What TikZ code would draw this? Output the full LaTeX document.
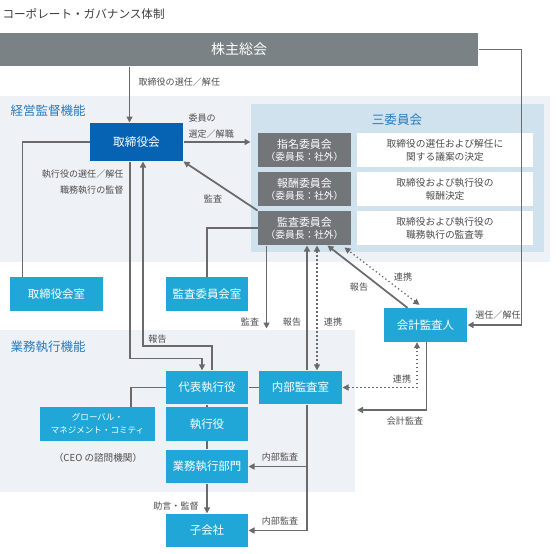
\documentclass[tikz,border=0pt]{standalone}
\usepackage{fontspec}
\setmainfont{Noto Sans CJK JP}
\usetikzlibrary{arrows.meta,calc}

\definecolor{barc}{RGB}{122,130,134}
\definecolor{boardc}{RGB}{6,98,178}
\definecolor{cyanc}{RGB}{32,167,215}
\definecolor{grayc}{RGB}{114,118,121}
\definecolor{regionc}{RGB}{238,242,246}
\definecolor{threec}{RGB}{207,226,238}
\definecolor{linec}{RGB}{104,106,108}
\definecolor{txtc}{RGB}{77,77,77}
\definecolor{headc}{RGB}{38,122,190}

\tikzset{every picture/.style={line width=0.75pt}}
\tikzset{
  cbox/.style={fill=cyanc,text=white,inner sep=0pt,minimum width=61.5pt,minimum height=25pt,font=\fontsize{8.6}{10}\selectfont},
  gbox/.style={fill=grayc,text=white,inner sep=0pt,minimum width=69.75pt,minimum height=25.5pt,align=center,font=\fontsize{8.2}{9}\selectfont},
  wbox/.style={fill=white,text=txtc,inner sep=0pt,minimum width=132pt,minimum height=25.5pt,align=center,font=\fontsize{7.3}{9.8}\selectfont},
  lbl/.style={text=txtc,inner sep=0pt,font=\fontsize{6.8}{11.5}\selectfont},
  head/.style={text=headc,inner sep=0pt,font=\fontsize{9.4}{11}\selectfont},
  conn/.style={draw=linec,line width=1.3pt},
  arr/.style={conn,-{Triangle[length=4.5pt,width=4.5pt]}},
  dots/.style={draw=linec,line width=1pt,dotted,{Triangle[length=4.5pt,width=4.5pt]}-{Triangle[length=4.5pt,width=4.5pt]}},
}
\newcommand{\chair}{\\{\fontsize{7.3}{9}\selectfont （委員長：社外）}}

\begin{document}
\begin{tikzpicture}[x=0.75pt,y=0.75pt,yscale=-1,xscale=1]
\useasboundingbox (0,0) rectangle (560,553);

% Title
\node[anchor=west,inner sep=0pt,text={rgb,255:red,60;green,60;blue,60},font=\fontsize{8.7}{10}\selectfont] (title) at (2,14) {コーポレート・ガバナンス体制};

%Shape: shareholders bar
\node[fill=barc,text=white,inner sep=0pt,minimum width=358.5pt,minimum height=24.75pt,font=\fontsize{10.5}{12}\selectfont] (gm) at (239,49.5) {株主総会};

%Shape: supervision area
\fill[regionc] (0,96) rectangle (550,262);
\node[head,anchor=west] (supv) at (10,111) {経営監督機能};
%Shape: execution area
\fill[regionc] (0,330) rectangle (355,492);
\node[head,anchor=west] (exec) at (10,347) {業務執行機能};

%Shape: three committees
\node[fill=threec,inner sep=0pt,minimum width=219.75pt,minimum height=111pt] (three) at (397.5,178) {};
\node[head] (threelbl) at (397,120) {三委員会};
\node[gbox] (nom) at (304.5,150) {指名委員会\chair};
\node[wbox] (nomtxt) at (445,150) {取締役の選任および解任に\\関する議案の決定};
\node[gbox] (rem) at (304.5,189) {報酬委員会\chair};
\node[wbox] (remtxt) at (445,189) {取締役および執行役の\\報酬決定};
\node[gbox] (aud) at (304.5,228) {監査委員会\chair};
\node[wbox] (audtxt) at (445,228) {取締役および執行役の\\職務執行の監査等};

%Shape: board
\node[fill=boardc,text=white,inner sep=0pt,minimum width=69.75pt,minimum height=28.5pt,font=\fontsize{8.8}{10}\selectfont] (board) at (136.5,142) {取締役会};

% Boxes
\node[cbox,minimum width=69.75pt] (boardrm) at (56.5,294) {取締役会室};
\node[cbox] (audrm) at (207,294) {監査委員会室};
\node[cbox,minimum width=62.25pt] (acct) at (425.5,325) {会計監査人};
\node[cbox] (ceo) at (207,387.5) {代表執行役};
\node[cbox,minimum width=62.25pt] (iaudit) at (300.5,387.5) {内部監査室};
\node[cbox,minimum width=86.25pt,align=center,font=\fontsize{6.4}{9.5}\selectfont] (gmc) at (97.5,424) {グローバル・\\マネジメント・コミティ};
\node[cbox] (officers) at (207,424) {執行役};
\node[cbox] (dept) at (207,466.5) {業務執行部門};
\node[cbox] (subs) at (207,530.5) {子会社};
\node[lbl,font=\fontsize{7.2}{9}\selectfont] (gmcnote) at (98,458) {（CEO の諮問機関）};

% Lanes
\coordinate (l1) at ($(board.north)+(-7,0)$);
\coordinate (l2) at ($(boardrm.north west)+(13,0)$);
\coordinate (l3) at ($(aud.south west)+(9,0)$);
\coordinate (auddown) at ($(l3)+(0,83)$);
\coordinate (l4) at ($(iaudit.north)+(6.5,0)$);
\coordinate (l5) at ($(iaudit.north)+(16.5,0)$);
\coordinate (l6) at ($(acct.south)+(-8.5,0)$);
\coordinate (l7) at ($(acct.south)+(1,0)$);
\coordinate (acctend) at (357,410);
\coordinate (l8) at ($(board.south)+(-6.5,0)$);
\coordinate (l9) at ($(board.south)+(6.5,0)$);
\coordinate (l10) at ($(ceo.north)+(-5,0)$);
\coordinate (l11) at ($(ceo.north)+(5,0)$);
\coordinate (l12) at ($(gmc.north)+(33.5,0)$);
\coordinate (l13) at ($(iaudit.south)+(6.5,0)$);

% Connectors
\draw[arr] (gm.south -| l1) -- (l1);
\node[lbl,anchor=west] (lselect) at (138,82) {取締役の選任／解任};

\draw[arr] (board.east) -- (board.east -| three.west);
\node[lbl,anchor=west,align=left] (lappoint) at (188,126) {委員の\\選定／解職};

\draw[conn] (board.west) -| (l2);
\node[lbl,anchor=east,align=right] (lsuperv) at (124,182) {執行役の選任／解任\\職務執行の監督};

\draw[arr] (aud.north west) -- (board.south east);
\node[lbl] (laudit1) at (213,199) {監査};

\draw[conn] (aud.west) -| (audrm.north);
\draw[arr] (l3) -- (auddown);
\node[lbl] (laudit2) at (250,322) {監査};

\draw[arr] (l4) -- (l4 |- aud.south);
\node[lbl] (lrep1) at (292,322) {報告};
\draw[dots] (l5) -- (l5 |- aud.south);
\node[lbl] (lcoop1) at (333,322) {連携};

\draw[arr] ($(acct.north west)+(24,0)$) -- ($(aud.south east)+(-24,0)$);
\node[lbl] (lrep2) at (359,287) {報告};
\draw[dots] ($(acct.north west)+(36,-3)$) -- ($(aud.south east)+(-7,2)$);
\node[lbl] (lcoop2) at (403,277) {連携};

\draw[arr] (gm.east) -- ++(43,0) |- (acct.east);
\node[lbl] (lselect2) at (498,315) {選任／解任};

\draw[dots] (iaudit.east) -| (l6);
\node[lbl] (lcoop3) at (402,379) {連携};

\draw[arr] (l7) |- (acctend);
\node[lbl] (lacct) at (405,421) {会計監査};

\draw[arr] (l8) -- ++(0,197) -| (l10);
\draw[arr] (l11) -- ++(0,-24) -| (l9);
\node[lbl] (lrep3) at (157.5,339) {報告};

\draw[conn] (ceo.east) -- (iaudit.west);
\draw[conn] (ceo.west) -| (l12);
\draw[conn] (ceo) -- (officers);
\draw[conn] (officers) -- (dept);
\draw[arr] (dept) -- (subs);
\node[lbl] (ladvice) at (176,506) {助言・監督};

\draw[arr] (l13) |- (subs.east);
\draw[arr] (l13 |- dept.east) -- (dept.east);
\node[lbl] (linaud1) at (280,457) {内部監査};
\node[lbl] (linaud2) at (280,521) {内部監査};
\end{tikzpicture}
\end{document}
